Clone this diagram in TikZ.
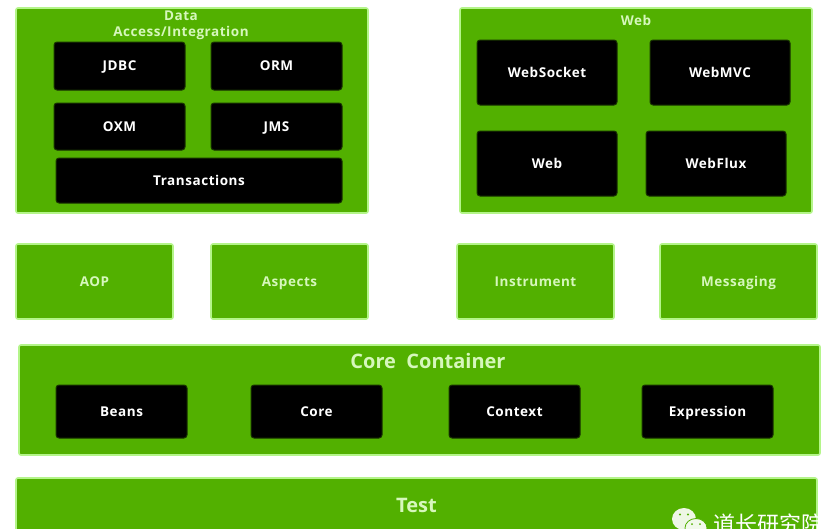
\documentclass[tikz,border=0pt]{standalone}
\usepackage{fontspec}
\setmainfont{Open Sans}
\newfontfamily\lblfont[LetterSpace=4]{Open Sans}
\newfontfamily\cjkfont{Noto Sans CJK SC}
\definecolor{grn}{HTML}{52B000}
\definecolor{glow}{HTML}{B4F58A}
\definecolor{ttl}{HTML}{D6F7BC}
\tikzset{
 x=1pt,y=-1pt,
 panel/.style={draw=glow,line width=1.6pt,fill=grn,rounded corners=2pt,inner sep=0pt,outer sep=0pt},
 plabel/.style={text=ttl,font=\lblfont\bfseries\fontsize{13.5}{16}\selectfont,text height=9.7pt,text depth=0pt},
 blk/.style={draw=black!70!grn,line width=1pt,fill=black,rounded corners=3pt,text=white,font=\lblfont\bfseries\fontsize{13.5}{16}\selectfont,text height=9.7pt,text depth=0pt,inner sep=0pt,outer sep=0pt},
 title/.style={text=ttl,font=\lblfont\bfseries\fontsize{13.5}{16}\selectfont,align=center,inner sep=0pt},
 bigtitle/.style={text=ttl,font=\bfseries\fontsize{20}{24}\selectfont,text height=14.3pt,text depth=0pt,inner sep=0pt},
}
\newcommand{\bx}[7]{% style,name,x1,y1,x2,y2,text
 \pgfmathsetmacro{\mycx}{(#3+#5)/2}\pgfmathsetmacro{\mycy}{(#4+#6)/2}
 \pgfmathsetmacro{\mybw}{#5-#3}\pgfmathsetmacro{\mybh}{#6-#4}
 \node[#1,minimum width=\mybw pt,minimum height=\mybh pt] (#2) at (\mycx,\mycy) {#7};}
\begin{document}
\begin{tikzpicture}
\useasboundingbox (0,0) rectangle (832,528);
\clip (0,0) rectangle (832,528);
\fill[white] (0,0) rectangle (832,528);
% panels
\bx{panel}{data}{16}{8}{368}{213}{}
\bx{panel}{web}{460}{8}{812}{213}{}
\bx{panel,plabel}{aop}{16}{244}{173}{319}{AOP}
\bx{panel,plabel}{aspects}{211}{244}{368}{319}{Aspects}
\bx{panel,plabel}{instr}{457}{244}{614}{319}{Instrument}
\bx{panel,plabel}{msg}{660}{244}{817}{319}{Messaging}
\bx{panel}{core}{19}{345}{820}{455}{}
\bx{panel,bigtitle}{test}{16}{478}{817}{532}{Test}
% titles
\node[title] (dt) at (181,25.5) {Data\\Access/Integration};
\node[title,text height=9.7pt,text depth=0pt] (wt) at (636,20.5) {Web};
\node[bigtitle] (ct) at (428,361) {Core\ \ Container};
% data
\bx{blk}{jdbc}{54}{42}{185}{90}{JDBC}
\bx{blk}{orm}{211}{42}{342}{90}{ORM}
\bx{blk}{oxm}{54}{103}{185}{150}{OXM}
\bx{blk}{jms}{211}{103}{342}{150}{JMS}
\bx{blk}{trans}{56}{158}{342}{203}{Transactions}
% web
\bx{blk}{ws}{477}{40}{617}{105}{WebSocket}
\bx{blk}{mvc}{650}{40}{790}{105}{WebMVC}
\bx{blk}{wb}{477}{131}{617}{196}{Web}
\bx{blk}{flux}{646}{131}{786}{196}{WebFlux}
% core
\bx{blk}{beans}{56}{385}{187}{438}{Beans}
\bx{blk}{corei}{251}{385}{382}{438}{Core}
\bx{blk}{ctx}{449}{385}{580}{438}{Context}
\bx{blk}{expr}{642}{385}{773}{438}{Expression}
% watermark
\fill[white!90!grn] (684,519) ellipse (12pt and 11pt);
\fill[grn] (680,514.5) circle (1.2pt) (688,514.5) circle (1.2pt);
\fill[white!92!grn,draw=grn,line width=.8pt] (696,528) ellipse (11pt and 9.5pt);
\fill[grn] (692,524) circle (1pt) (700,524) circle (1pt);
\node[text=white,font=\cjkfont\fontsize{22}{26}\selectfont,anchor=west,inner sep=0pt] (wm) at (713,524) {道长研究院};
\end{tikzpicture}
\end{document}
